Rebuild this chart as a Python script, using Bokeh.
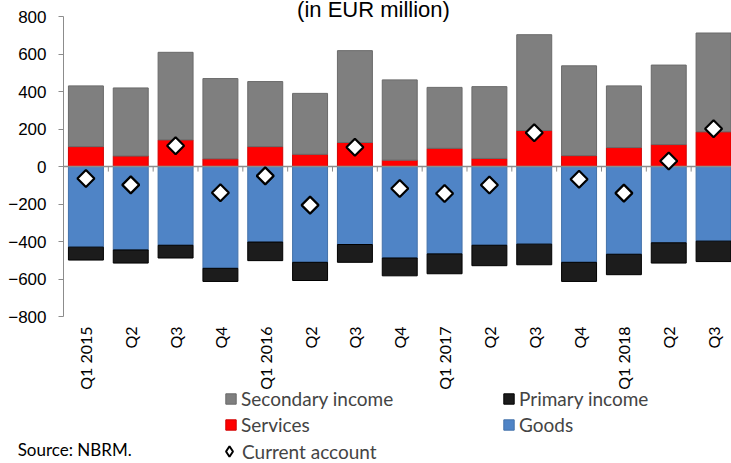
import math
from bokeh.plotting import figure
from bokeh.models import (ColumnDataSource, Legend, LegendItem, FixedTicker, LinearAxis, Label)
from bokeh.core.properties import value
from bokeh.embed import file_html
from bokeh.resources import INLINE

# ---- data (EUR million) ----
quarters = ["2015Q1", "2015Q2", "2015Q3", "2015Q4",
            "2016Q1", "2016Q2", "2016Q3", "2016Q4",
            "2017Q1", "2017Q2", "2017Q3", "2017Q4",
            "2018Q1", "2018Q2", "2018Q3"]
tick_labels = ["Q1 2015", "Q2", "Q3", "Q4",
               "Q1 2016", "Q2", "Q3", "Q4",
               "Q1 2017", "Q2", "Q3", "Q4",
               "Q1 2018", "Q2", "Q3"]
services = [106, 56, 142, 41, 106, 65, 128, 34, 97, 43, 192, 58, 101, 117, 185]
secondary_income = [324, 363, 467, 428, 347, 325, 490, 428, 325, 383, 511, 479, 329, 424, 527]
goods = [-430, -445, -420, -543, -403, -511, -416, -488, -466, -420, -414, -511, -468, -407, -398]
primary_income = [-69, -70, -68, -70, -99, -97, -95, -95, -106, -109, -110, -102, -109, -108, -109]
current_account = [-64, -98, 111, -140, -50, -206, 103, -117, -144, -99, 180, -68, -142, 29, 201]
y_ticks = [-800, -600, -400, -200, 0, 200, 400, 600, 800]
title_text = "(in EUR million)"
source_text = "Source: NBRM."

# ---- layout constants (pixels) ----
Y_MIN, Y_MAX = y_ticks[0], y_ticks[-1]
PX_PER_UNIT = 300 / (Y_MAX - Y_MIN)      # value axis is 300 px tall (y = 16 .. 316)
AXIS_TOP_PX, AXIS_BOTTOM_PX, FRAME_BOTTOM_PX = 16, 316, 462

idx = list(range(len(quarters)))
src = ColumnDataSource(dict(x=idx, q=quarters, services=services, secondary=secondary_income,
                            goods=goods, primary=primary_income, ca=current_account,
                            bound=[i - 0.5 for i in idx], lab=tick_labels,
                            laby=[Y_MIN] * len(idx)))

p = figure(width=731, height=463, x_range=(-0.5, len(quarters) - 0.6),
           y_range=(Y_MIN - (FRAME_BOTTOM_PX - AXIS_BOTTOM_PX) / PX_PER_UNIT,
                    Y_MAX + AXIS_TOP_PX / PX_PER_UNIT),
           output_backend="svg", toolbar_location=None,
           min_border_left=63, min_border_right=0, min_border_top=0, min_border_bottom=1)
p.outline_line_color = None
p.background_fill_color = "white"
p.border_fill_color = "white"
p.grid.visible = False
p.title.visible = False

W = 0.78
pos = p.vbar_stack(["services", "secondary"], x="x", width=W, source=src,
                   fill_color=["#FF0000", "#7F7F7F"], line_color=["#D00000", "#6A6A6A"],
                   line_width=1)
neg = p.vbar_stack(["goods", "primary"], x="x", width=W, source=src,
                   fill_color=["#4F84C6", "#1C1C1C"], line_color=["#4472AA", "#000000"],
                   line_width=1)

# zero line with category-boundary ticks
p.hspan(y=[0], line_color="#8C8C8C", line_width=1.5)
p.segment(x0="bound", x1="bound", y0=0, y1=-27, source=src, line_color="#8C8C8C", line_width=1)

# diamond-marker copy of the series (hidden beneath the main markers) used as legend swatch
ca_key = p.scatter(x="x", y="ca", source=src, marker="diamond", size=9,
                   fill_color="white", line_color="black", line_width=2)
ca = p.scatter(x="x", y="ca", source=src, marker="square", angle=math.pi / 4, size=12,
               fill_color="white", line_color="black", line_width=2.2)

# category labels, vertical, hanging below the bottom of the value axis
p.text(x="x", y="laby", text="lab", source=src, angle=math.pi / 2, y_offset=10,
       text_align="right", text_baseline="middle",
       text_font=value("Lato"), text_font_size=value("16px"), text_color="black")

# title at the top edge
p.add_layout(Label(x=310, x_units="screen", y=Y_MAX + (AXIS_TOP_PX - 9) / PX_PER_UNIT,
                   text=title_text, text_align="center", text_baseline="alphabetic",
                   text_font="Liberation Sans", text_font_size="22px", text_color="black"))

# value axis
yax = p.yaxis[0]
yax.ticker = FixedTicker(ticks=y_ticks)
yax.bounds = (Y_MIN, Y_MAX)
yax.axis_line_color = "#8C8C8C"
yax.major_tick_line_color = "#8C8C8C"
yax.major_tick_out = 5
yax.major_tick_in = 0
yax.minor_tick_line_color = None
yax.major_label_text_font = "Liberation Sans"
yax.major_label_text_font_size = "17px"
yax.major_label_text_color = "black"
yax.major_label_standoff = 12

p.xaxis.visible = False

common = dict(orientation="vertical", padding=0, margin=0,
              label_text_font="Lato", label_text_font_size="19px",
              background_fill_alpha=0, border_line_color=None)
legend = Legend(items=[
    LegendItem(label="Secondary income", renderers=[pos[1]]),
    LegendItem(label="Services", renderers=[pos[0]]),
    LegendItem(label="Primary income", renderers=[neg[1]]),
    LegendItem(label="Goods", renderers=[neg[0]]),
], location=(161, 26), nrows=2, glyph_width=13, glyph_height=13, label_standoff=4,
    label_width=258, label_height=21, spacing=3, **common)
p.add_layout(legend, "center")

legend2 = Legend(items=[LegendItem(label="Current account", renderers=[ca_key])],
                 location=(153, -2), glyph_width=26, glyph_height=26, label_standoff=0,
                 label_height=21, spacing=0, **common)
p.add_layout(legend2, "center")

# source note: a label-only axis whose single tick sits near the left edge
src_axis = LinearAxis(ticker=FixedTicker(ticks=[-0.25]),
                      major_label_overrides={-0.25: source_text},
                      axis_line_color=None, major_tick_line_color=None,
                      minor_tick_line_color=None, major_tick_out=0, major_tick_in=0,
                      minor_tick_out=0, minor_tick_in=0,
                      major_label_orientation="horizontal", major_label_standoff=-24,
                      major_label_text_font="Lato", major_label_text_font_size="17px",
                      major_label_text_color="black")
p.add_layout(src_axis, "below")

open("out.html", "w").write(file_html(p, INLINE))
